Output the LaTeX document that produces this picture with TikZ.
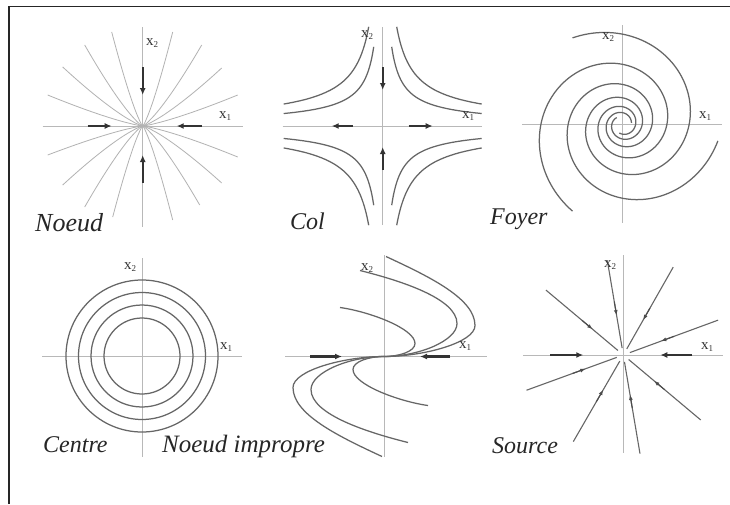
\documentclass[tikz,border=0pt]{standalone}
\usepackage{fontspec}
\setmainfont{Liberation Serif}
\usetikzlibrary{arrows.meta,calc}
\newcommand{\xlab}[1]{x\raisebox{-2.5pt}{\fontsize{9}{10}\selectfont #1}}
\begin{document}
\begin{tikzpicture}[x=1pt,y=-1pt,
  axis/.style={draw=black!28, line width=0.7pt},
  traj/.style={draw=black!60, line width=1.25pt},
  ltraj/.style={draw=black!30, line width=0.8pt},
  flow/.style={draw=black!80, line width=2.4pt, -{Latex[length=7pt,width=6pt]}},
  tipar/.style={draw=black!70, line width=1.1pt, -{Latex[length=5.5pt,width=4pt]}},
  lab/.style={font=\fontsize{15}{17}\selectfont, inner sep=0pt, text=black!80},
  ttl/.style={font=\fontsize{24}{28}\selectfont\itshape, anchor=base west, inner sep=0pt, text=black!85}]
\useasboundingbox (0,0) rectangle (730,504);
\fill[white] (0,0) rectangle (730,504);
\draw[line width=1.5pt, black!85] (9,504) -- (9,6.5) -- (730,6.5);

% ---------- Noeud ----------
\begin{scope}[shift={(142.7,126)}]
  \draw[axis] (-100,0) -- (100,0);
  \draw[axis] (0,-99) -- (0,101);
  \foreach \dx/\dy in {-31/-94, 30/-94, -58/-81, 59/-81, -80/-59, 79/-58, -95/-31, 95/-31,
                       -95/29, 95/31, -80/59, 79/57, -58/81, 57/79, -30/91, 30/94}
    \draw[ltraj] plot[domain=0.002:1, samples=40, smooth] ({\dx*\x},{\dy*exp(1.25*ln(\x))});
  \draw[flow] (0,-59) -- (0,-31);
  \draw[flow] (0,57) -- (0,29);
  \draw[flow] (-55,0) -- (-31,0);
  \draw[flow] (59,0) -- (34,0);
\end{scope}
\node[lab] (n1x2) at (152,43) {\xlab{2}};
\node[lab] (n1x1) at (225,116) {\xlab{1}};
\node[ttl, font=\fontsize{26}{30}\selectfont\itshape] (t1) at (35,231) {Noeud};

% ---------- Col ----------
\begin{scope}[shift={(382.7,126)}]
  \draw[axis] (-100,0) -- (99,0);
  \draw[axis] (0,-99) -- (0,99);
  \foreach \sx in {-1,1} \foreach \sy in {-1,1} {
    \draw[traj] plot[domain=9:99, samples=100, smooth] ({\sx*\x},{\sy*430*exp(-0.77*ln(\x))});
    \draw[traj] plot[domain=14:99, samples=100, smooth] ({\sx*\x},{\sy*757*exp(-0.77*ln(\x))});
  }
  \draw[flow] (0,-59) -- (0,-36);
  \draw[flow] (0,44) -- (0,21);
  \draw[flow] (-30,0) -- (-51,0);
  \draw[flow] (26,0) -- (50,0);
\end{scope}
\node[lab] (n2x2) at (367,35) {\xlab{2}};
\node[lab] (n2x1) at (468,116) {\xlab{1}};
\node[ttl] (t2) at (290,229) {Col};

% ---------- Foyer ----------
\begin{scope}[shift={(622.5,124.5)}]
  \draw[axis] (-100.5,0) -- (99.5,0);
  \draw[axis] (0,-99.5) -- (0,98.5);
  \foreach \a/\t in {240/0, 120/0, 0/0.17}
    \draw[traj] plot[domain=\t:12.4, samples=300, smooth]
      ({100*exp(-0.194*\x)*cos(\a+deg(\x))},{100*exp(-0.194*\x)*sin(\a+deg(\x))});
\end{scope}
\node[lab] (n3x2) at (608,37) {\xlab{2}};
\node[lab] (n3x1) at (705,116) {\xlab{1}};
\node[ttl] (t3) at (490,224) {Foyer};

% ---------- Centre ----------
\begin{scope}[shift={(142,356)}]
  \draw[axis] (-100,0) -- (100,0);
  \draw[axis] (0,-98) -- (0,101);
  \foreach \r in {76,63.5,51,38}
    \draw[traj] (0,0) circle[radius=\r];
\end{scope}
\node[lab] (n4x2) at (130,267) {\xlab{2}};
\node[lab] (n4x1) at (226,347) {\xlab{1}};
\node[ttl] (t4) at (43,452) {Centre};

% ---------- Noeud impropre ----------
\begin{scope}[shift={(384,356.5)}]
  \draw[axis] (-99,0) -- (103,0);
  \draw[axis] (0,-101.5) -- (0,100.5);
  \foreach \rot in {0,180} {
    \begin{scope}[rotate=\rot]
      \draw[traj] (2,-100) .. controls (45,-80) and (91,-58) .. (91,-31)
                           .. controls (91,-14) and (40,0) .. (0,0);
      \draw[traj] (-24,-86) .. controls (16,-76) and (73,-58) .. (73,-33)
                            .. controls (73,-16) and (35,0) .. (0,0);
      \draw[traj] (-44,-49) .. controls (-15,-45) and (31,-28) .. (31,-13)
                            .. controls (31,-5) and (15,0) .. (0,0);
    \end{scope}
  }
  \draw[flow] (-74,0) -- (-42,0);
  \draw[flow] (66,0) -- (36,0);
\end{scope}
\node[lab] (n5x2) at (367,268) {\xlab{2}};
\node[lab] (n5x1) at (465,346) {\xlab{1}};
\node[ttl, font=\fontsize{25}{29}\selectfont\itshape] (t5) at (162,452) {Noeud impropre};

% ---------- Source ----------
\begin{scope}[shift={(623.3,355)}]
  \draw[axis] (-100,0) -- (100,0);
  \draw[axis] (0,-100) -- (0,98);
  \foreach \t/\R in {260.4/96, 80.4/100, 299.6/101, 120/100, 220/101, 40/101, 339.8/101, 160/103} {
    \draw[traj, line width=1.1pt] (\t:\R) -- (\t:7);
    \draw[tipar] (\t:54) -- (\t:40);
  }
  \draw[flow] (-73,0) -- (-40,0);
  \draw[flow] (69,0) -- (37,0);
\end{scope}
\node[lab] (n6x2) at (610,265) {\xlab{2}};
\node[lab] (n6x1) at (707,347) {\xlab{1}};
\node[ttl] (t6) at (492,453) {Source};
\end{tikzpicture}
\end{document}
